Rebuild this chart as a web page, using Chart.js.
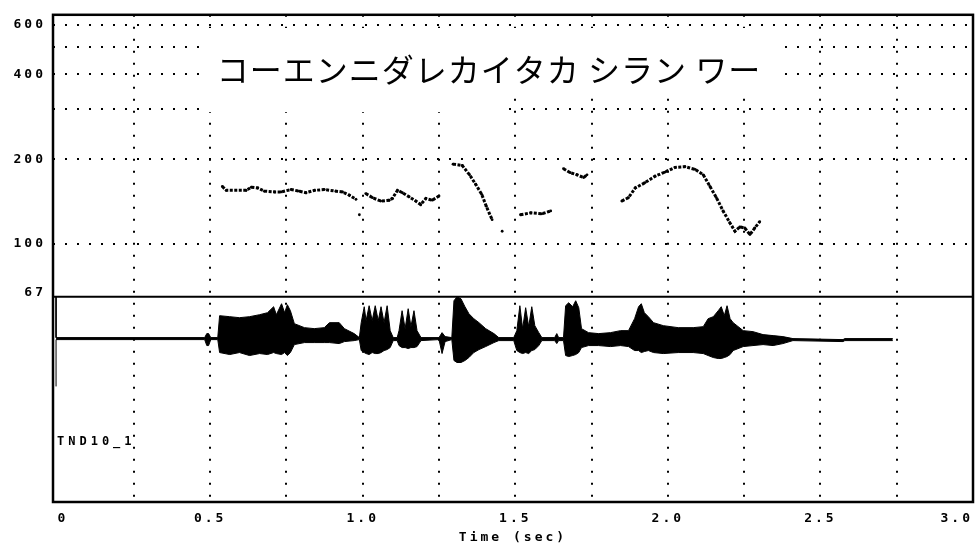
<!DOCTYPE html>
<html>
<head>
<meta charset="utf-8">
<script src="https://cdn.jsdelivr.net/npm/chart.js@4.4.0/dist/chart.umd.min.js"></script>
<style>
  html, body { margin: 0; padding: 0; background: #fff; }
  canvas { display: block; }
</style>
</head>
<body>
<canvas id="pitchChart" width="977" height="548"></canvas>
<script>
// axis ticks
const timeTicks = [0, 0.25, 0.5, 0.75, 1.0, 1.25, 1.5, 1.75, 2.0, 2.25, 2.5, 2.75, 3.0];
const timeLabels = ['0', '', '0.5', '', '1.0', '', '1.5', '', '2.0', '', '2.5', '', '3.0'];
const hzTicks = [67, 100, 200, 300, 400, 500, 600];
const hzLabels = ['67', '100', '200', '', '400', '', '600'];

// F0 contour (sec, Hz), null = break between voiced parts
const pitchTime = [0.540, 0.553, 0.618, 0.635, 0.656, 0.678, 0.711, 0.733, 0.765, 0.792, 0.814, 0.842, 0.874, 0.912, 0.934, 0.956, 0.978, null,
  0.989, null,
  1.010, 1.032, 1.059, 1.087, 1.097, 1.114, 1.130, 1.152, 1.174, 1.190, 1.207, 1.228, 1.250, null,
  1.296, 1.326, 1.350, 1.370, 1.390, 1.405, 1.424, null,
  1.457, null,
  1.517, 1.551, 1.587, 1.616, null,
  1.658, 1.680, 1.702, 1.724, 1.735, null,
  1.849, 1.871, 1.893, 1.925, 1.958, 1.991, 2.024, 2.056, 2.089, 2.116, 2.138, 2.159, 2.181, 2.203, 2.220, 2.236, 2.252, 2.269, 2.285, 2.301];
const pitchHz = [160, 155, 155, 159, 158, 154, 153, 153, 156, 154, 152, 155, 156, 154, 153, 149, 144, null,
  127, null,
  151, 146, 142, 143, 145, 155, 152, 147, 142, 138, 145, 143, 148, null,
  192, 190, 176, 163, 150, 136, 122, null,
  111, null,
  127, 129, 128, 131, null,
  185, 179, 176, 172, 176, null,
  142, 146, 158, 165, 174, 180, 187, 188, 184, 176, 160, 146, 131, 119, 111, 115, 114, 108, 114, 120];

// waveform envelope (sec, upper / lower amplitude)
const waveTime = [-0.005, -0.005, 0.008, 0.482, 0.489, 0.495, 0.502, 0.525, 0.531, 0.564,
  0.596, 0.629, 0.662, 0.688, 0.708, 0.717, 0.734, 0.744, 0.753, 0.763,
  0.776, 0.809, 0.841, 0.874, 0.891, 0.923, 0.940, 0.972, 0.989, 0.995,
  1.005, 1.011, 1.021, 1.031, 1.041, 1.051, 1.060, 1.070, 1.080, 1.090,
  1.100, 1.113, 1.119, 1.129, 1.139, 1.149, 1.158, 1.168, 1.178, 1.191,
  1.250, 1.260, 1.270, 1.292, 1.299, 1.309, 1.322, 1.335, 1.348, 1.364,
  1.381, 1.403, 1.430, 1.446, 1.495, 1.505, 1.515, 1.524, 1.534, 1.544,
  1.554, 1.564, 1.577, 1.587, 1.629, 1.636, 1.642, 1.658, 1.665, 1.675,
  1.688, 1.698, 1.708, 1.717, 1.740, 1.773, 1.812, 1.845, 1.871, 1.891,
  1.904, 1.913, 1.923, 1.936, 1.953, 1.985, 2.034, 2.083, 2.116, 2.132,
  2.149, 2.165, 2.175, 2.185, 2.194, 2.204, 2.214, 2.247, 2.279, 2.312,
  2.345, 2.377, 2.410, 2.574, 2.580, 2.737];
const waveHi = [42, 1, 1, 1, 5, 5, 1, 1, 23, 22,
  21, 22, 24, 26, 32, 24, 35, 26, 34, 28,
  15, 11, 10, 11, 16, 16, 10, 5, 1, 16,
  32, 18, 33, 18, 33, 18, 32, 16, 33, 8,
  1, 1, 8, 28, 10, 30, 12, 28, 8, 1,
  1, 6, 2, 1, 38, 42, 40, 32, 25, 20,
  16, 10, 5, 1, 1, 8, 33, 10, 31, 12,
  32, 13, 6, 1, 1, 5, 1, 1, 33, 36,
  32, 38, 31, 10, 6, 5, 6, 8, 8, 20,
  32, 35, 26, 22, 16, 13, 11, 11, 12, 20,
  22, 28, 32, 23, 33, 20, 16, 8, 7, 4,
  3, 2, 0, -1, 0, 0];
const waveLo = [-48, -1, -1, -1, -7, -7, -1, -1, -14, -16,
  -14, -17, -15, -16, -14, -15, -16, -14, -17, -14,
  -6, -4, -4, -4, -4, -5, -3, -2, -1, -12,
  -14, -15, -16, -14, -15, -15, -14, -12, -11, -9,
  -2, -2, -7, -9, -9, -10, -9, -9, -8, -2,
  -1, -15, -3, -1, -22, -24, -24, -22, -19, -14,
  -11, -8, -4, -2, -2, -12, -14, -15, -14, -15,
  -12, -11, -7, -2, -2, -5, -2, -2, -17, -18,
  -17, -16, -14, -9, -7, -7, -8, -7, -8, -12,
  -12, -14, -13, -12, -14, -15, -14, -14, -15, -17,
  -19, -20, -20, -19, -18, -16, -12, -8, -7, -6,
  -7, -5, -2, -3, -2, -2];

const titleText = 'コーエンニダレカイタカ シラン ワー';
const fileLabel = 'TND10_1';

const monoFont = { family: 'DejaVu Sans Mono', size: 13, weight: 'bold' };

// white page, frame, title text and file label
const paperPlugin = {
  id: 'paper',
  beforeDraw(chart) {
    const ctx = chart.ctx;
    ctx.save();
    ctx.fillStyle = '#fff';
    ctx.fillRect(0, 0, chart.width, chart.height);
    ctx.restore();
    ctx.letterSpacing = '3px';
  },
  beforeDatasetsDraw(chart) {
    const ctx = chart.ctx;
    ctx.save();
    ctx.fillStyle = '#fff';
    ctx.fillRect(205, 28, 300, 84);
    ctx.fillRect(505, 28, 272, 70);
    ctx.letterSpacing = '1px';
    ctx.fillStyle = '#000';
    ctx.font = '32px "Noto Sans CJK JP"';
    ctx.textAlign = 'center';
    ctx.textBaseline = 'middle';
    ctx.fillText(titleText, 489, 70);
    ctx.restore();
  },
  afterDraw(chart) {
    const ctx = chart.ctx;
    const a = chart.chartArea;
    ctx.save();
    ctx.strokeStyle = '#000';
    ctx.lineWidth = 2.5;
    ctx.strokeRect(a.left, a.top, a.right - a.left, a.bottom - a.top);
    ctx.lineWidth = 2;
    const yDiv = chart.scales.y.bottom;
    ctx.beginPath();
    ctx.moveTo(a.left, yDiv);
    ctx.lineTo(a.right, yDiv);
    ctx.stroke();
    ctx.fillStyle = '#000';
    ctx.font = 'bold 12px "DejaVu Sans Mono"';
    ctx.letterSpacing = '4px';
    ctx.textBaseline = 'middle';
    ctx.fillText(fileLabel, a.left + 4, 442);
    ctx.restore();
    ctx.letterSpacing = '0px';
  }
};

new Chart(document.getElementById('pitchChart'), {
  type: 'line',
  data: {
    datasets: [
      {
        data: pitchTime.map((t, i) => ({ x: t, y: pitchHz[i] })),
        yAxisID: 'y',
        borderColor: '#000',
        backgroundColor: '#000',
        borderWidth: 3,
        borderDash: [3, 1.5],
        pointRadius: 1.4,
        pointBorderWidth: 0,
        spanGaps: false,
        tension: 0
      },
      {
        data: waveTime.map((t, i) => ({ x: t, y: waveHi[i] })),
        yAxisID: 'y2',
        borderColor: '#000',
        backgroundColor: '#000',
        borderWidth: 1,
        pointRadius: 0,
        fill: '+1',
        tension: 0
      },
      {
        data: waveTime.map((t, i) => ({ x: t, y: waveLo[i] })),
        yAxisID: 'y2',
        borderColor: '#000',
        borderWidth: 1,
        pointRadius: 0,
        fill: false,
        tension: 0
      }
    ]
  },
  options: {
    responsive: false,
    animation: false,
    layout: { padding: { top: 13, right: 0, left: 0, bottom: 0 } },
    plugins: {
      legend: { display: false },
      tooltip: { enabled: false }
    },
    scales: {
      x: {
        type: 'linear',
        min: -0.015,
        max: 3.0,
        afterBuildTicks: (s) => { s.ticks = timeTicks.map(v => ({ value: v })); },
        afterFit: (s) => { s.height = 46; s.paddingLeft = 0; s.paddingRight = 0; },
        ticks: {
          autoSkip: false,
          maxRotation: 0,
          align: 'inner',
          padding: 9,
          color: '#000',
          font: monoFont,
          callback: (v, i) => timeLabels[i]
        },
        grid: {
          color: (c) => (c.tick && (c.tick.value === 0 || c.tick.value === 3)) ? 'rgba(0,0,0,0)' : '#000',
          lineWidth: 2,
          drawTicks: false
        },
        border: { display: false, dash: [2, 10] },
        title: {
          display: true,
          text: 'Time (sec)',
          color: '#000',
          font: monoFont,
          padding: { top: 0, bottom: 3 }
        }
      },
      y2: {
        type: 'linear',
        position: 'left',
        stack: 'panel',
        stackWeight: 206,
        min: -164,
        max: 42,
        afterFit: (s) => { s.width = 53; },
        ticks: { display: false },
        grid: { display: false },
        border: { display: false }
      },
      y: {
        type: 'logarithmic',
        position: 'left',
        stack: 'panel',
        stackWeight: 283,
        min: 65,
        max: 650,
        afterBuildTicks: (s) => { s.ticks = hzTicks.map(v => ({ value: v })); },
        afterFit: (s) => { s.width = 53; },
        ticks: {
          autoSkip: false,
          padding: 7,
          color: '#000',
          font: monoFont,
          callback: (v, i) => hzLabels[i]
        },
        grid: {
          color: (c) => (c.tick && c.tick.value === 67) ? 'rgba(0,0,0,0)' : '#000',
          lineWidth: 2,
          drawTicks: false
        },
        border: { display: false, dash: [2, 10] }
      }
    }
  },
  plugins: [paperPlugin]
});
</script>
</body>
</html>
